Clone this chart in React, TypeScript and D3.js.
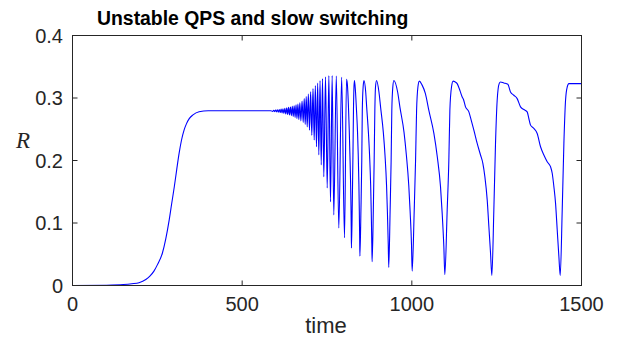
import React from "react";
import * as d3 from "d3";

const titleText = "Unstable QPS and slow switching";
const xLabel = "time";
const yLabel = "R";
const xTicks = [0, 500, 1000, 1500];
const yTicks = [0, 0.1, 0.2, 0.3, 0.4];
const yTickLabels = ["0", "0.1", "0.2", "0.3", "0.4"];

const timeValues = [
  0, 100, 150, 175, 196, 216, 228, 240, 250, 265, 275, 285, 292, 300, 307, 314, 321, 329, 336, 344, 355, 373, 400, 500, 585,
  590, 592.75, 595.5, 598.25, 601, 603.75, 606.5, 609.25, 612, 614.75, 617.5, 620.25, 623, 625.75, 628.5, 631.25, 634, 636.75,
  639.5, 642.25, 645, 647.75, 650.5, 653.25, 656, 658.75, 661.5, 664.25, 667, 670, 673, 676.5, 679.9, 682.9, 685.8, 688.8,
  691.7, 695, 698.4, 701.8, 705.2, 708.8, 712.3, 715.7, 719, 722.5, 725.9, 729.5, 733, 736.8, 740.6, 745.6, 750.6, 755.5,
  760.3, 765.2, 770, 777.4, 784.8, 793.2, 801.6, 807.5, 810, 813, 815.5, 817.5, 819.5, 820.7, 821.5, 822,
  824.5, 826.5, 828, 829.5, 831, 834, 836.5, 840, 842, 844, 845.2, 846.3, 847,
  850, 852.5, 854, 856.5, 859, 864, 867, 872, 875.5, 878.7, 880.4, 882, 883,
  886.5, 889, 891, 893, 896, 903, 908, 916, 921, 925.5, 928, 930.5, 932,
  936, 939, 941, 944, 947, 958, 965, 977, 984, 991, 995, 999, 1001,
  1007, 1011, 1014, 1018, 1022, 1030, 1040, 1050, 1065, 1075, 1084.5, 1089.4, 1094.3, 1097.3,
  1104.2, 1109.1, 1112.1, 1116.9, 1121.8, 1127, 1133.6, 1141.5, 1148.4, 1152, 1158.2, 1168.1, 1174.9, 1182.8, 1192.6,
  1202.4, 1209.3, 1215.2, 1222.1, 1227, 1231.9, 1235.8,
  1241.7, 1246.6, 1251.5, 1257.4, 1261.3, 1271.1, 1282.9, 1290.8, 1300.6, 1310.4, 1320.3, 1330.1, 1339.9, 1344.8,
  1349.8, 1359.6, 1369.4, 1379.3, 1389.1, 1398.9, 1408.7, 1413.7, 1418.6, 1423.5, 1428.4, 1433.3, 1437.3,
  1443.2, 1448.1, 1453, 1457.9, 1462.8, 1472.6, 1500,
];

const rValues = [
  0, 0.0005, 0.0015, 0.0028, 0.0045, 0.0095, 0.015, 0.023, 0.033, 0.052, 0.075, 0.105, 0.13, 0.158, 0.185, 0.211, 0.232, 0.249, 0.259, 0.267, 0.273, 0.278, 0.2795, 0.2795, 0.2795,
  0.2785, 0.2805, 0.2782, 0.2808, 0.2778, 0.2812, 0.2773, 0.2817, 0.2767, 0.2823, 0.276, 0.2829, 0.2752, 0.2835, 0.2744, 0.2842, 0.2736, 0.285,
  0.2728, 0.2857, 0.2718, 0.2866, 0.2705, 0.2877, 0.269, 0.289, 0.2672, 0.2905, 0.2655, 0.2925, 0.2632, 0.295, 0.2609, 0.299, 0.2577, 0.3025,
  0.2539, 0.3065, 0.2486, 0.31, 0.2406, 0.315, 0.2327, 0.32, 0.222, 0.324, 0.209, 0.328, 0.193, 0.331, 0.174, 0.334, 0.156, 0.336,
  0.134, 0.336, 0.113, 0.335, 0.092, 0.333, 0.0765, 0.33, 0.322, 0.29, 0.25, 0.21, 0.165, 0.125, 0.09, 0.06,
  0.13, 0.21, 0.28, 0.318, 0.328, 0.31, 0.285, 0.245, 0.21, 0.162, 0.12, 0.075, 0.047,
  0.12, 0.2, 0.28, 0.318, 0.328, 0.31, 0.285, 0.245, 0.208, 0.16, 0.118, 0.068, 0.038,
  0.12, 0.2, 0.28, 0.318, 0.328, 0.31, 0.285, 0.245, 0.208, 0.16, 0.118, 0.066, 0.029,
  0.12, 0.2, 0.28, 0.318, 0.328, 0.31, 0.285, 0.245, 0.208, 0.16, 0.118, 0.066, 0.023,
  0.12, 0.2, 0.28, 0.318, 0.327, 0.321, 0.307, 0.2805, 0.2433, 0.206, 0.1582, 0.1158, 0.0626, 0.0175,
  0.1211, 0.2008, 0.2805, 0.3176, 0.327, 0.326, 0.323, 0.3124, 0.3017, 0.298, 0.2858, 0.2778, 0.2645, 0.2486, 0.2274,
  0.2088, 0.1955, 0.1742, 0.137, 0.0945, 0.0521, 0.0159,
  0.1211, 0.2274, 0.2964, 0.323, 0.3256, 0.324, 0.322, 0.3097, 0.3044, 0.299, 0.2858, 0.2815, 0.2778, 0.2672,
  0.2566, 0.2513, 0.2433, 0.222, 0.2088, 0.1981, 0.1901, 0.1796, 0.1582, 0.1318, 0.0892, 0.0467, 0.0159,
  0.1211, 0.2274, 0.2964, 0.3176, 0.323, 0.323, 0.323,
];

const W = 618;
const H = 343;
const left = 72.5;
const right = 581.5;
const top = 35.5;
const bottom = 285.5;
const axisColor = "#262626";
const sans = "'Liberation Sans', Arial, Helvetica, sans-serif";

export default function App() {
  const x = d3.scaleLinear().domain([0, 1500]).range([left, right]);
  const y = d3.scaleLinear().domain([0, 0.4]).range([bottom, top]);
  const pts: [number, number][] = timeValues.map((t, i) => [t, rValues[i]]);
  const line = d3
    .line<[number, number]>()
    .x((d) => x(d[0]))
    .y((d) => y(d[1]))
    .curve(d3.curveMonotoneX);
  const tickLen = 5;

  return (
    <svg
      width={W}
      height={H}
      style={{ position: "absolute", left: 0, top: 0, background: "#fff" }}
    >
      <rect x={0} y={0} width={W} height={H} fill="#fff" />
      <path d={line(pts) || ""} fill="none" stroke="#0000ff" strokeWidth={1.1} />
      <rect x={left} y={top} width={right - left} height={bottom - top} fill="none" stroke={axisColor} strokeWidth={1} />
      {xTicks.map((t) => (
        <g key={"xt" + t}>
          <line x1={x(t)} x2={x(t)} y1={bottom} y2={bottom - tickLen} stroke={axisColor} />
          <line x1={x(t)} x2={x(t)} y1={top} y2={top + tickLen} stroke={axisColor} />
          <text x={x(t)} y={311} textAnchor="middle" fontFamily={sans} fontSize={20} fill={axisColor}>
            {t}
          </text>
        </g>
      ))}
      {yTicks.map((v, i) => (
        <g key={"yt" + v}>
          <line x1={left} x2={left + tickLen} y1={y(v)} y2={y(v)} stroke={axisColor} />
          <line x1={right} x2={right - tickLen} y1={y(v)} y2={y(v)} stroke={axisColor} />
          <text x={63} y={y(v) + 7} textAnchor="end" fontFamily={sans} fontSize={20} fill={axisColor}>
            {yTickLabels[i]}
          </text>
        </g>
      ))}
      <text x={326} y={333} textAnchor="middle" fontFamily={sans} fontSize={22} fill={axisColor}>
        {xLabel}
      </text>
      <text x={23} y={148} textAnchor="middle" fontFamily="'Liberation Serif', 'Times New Roman', serif" fontStyle="italic" fontSize={23} fill={axisColor}>
        {yLabel}
      </text>
      <text x={97} y={25} textAnchor="start" fontFamily={sans} fontWeight="bold" fontSize={19.4} fill="#000">
        {titleText}
      </text>
    </svg>
  );
}
